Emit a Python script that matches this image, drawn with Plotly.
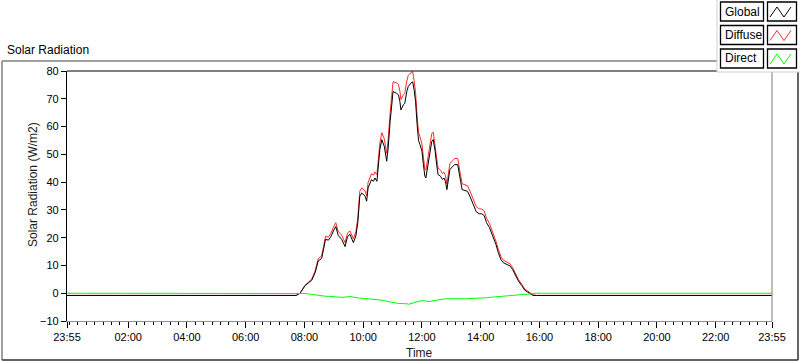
import plotly.graph_objects as go

# ---------------- data ----------------
times = [
    "23:55", "07:43", "07:51", "08:01", "08:15", "08:22", "08:28", "08:35", "08:39", "08:43",
    "08:49", "08:54", "08:59", "09:04", "09:09", "09:16", "09:23", "09:28", "09:33", "09:40",
    "09:45", "09:49", "09:53", "09:57", "10:04", "10:07", "10:10", "10:14", "10:17", "10:21",
    "10:24", "10:28", "10:31", "10:34", "10:38", "10:43", "10:48", "10:51", "10:55", "10:58",
    "11:01", "11:08", "11:12", "11:15", "11:17", "11:22", "11:25", "11:29", "11:32", "11:37",
    "11:41", "11:44", "11:47", "11:50", "11:53", "11:56", "12:00", "12:03", "12:06", "12:08",
    "12:11", "12:15", "12:20", "12:23", "12:27", "12:30", "12:33", "12:38", "12:42", "12:45",
    "12:48", "12:51", "12:54", "12:57", "13:03", "13:07", "13:13", "13:16", "13:19", "13:22",
    "13:28", "13:33", "13:38", "13:42", "13:46", "13:51", "13:57", "14:02", "14:07", "14:12",
    "14:18", "14:22", "14:27", "14:31", "14:36", "14:41", "14:46", "14:53", "15:00", "15:05",
    "15:10", "15:17", "15:24", "15:30", "15:35", "15:42", "15:47", "15:54", "23:55",
]

global_wm2 = [
    -0.8, -0.8, 0.0, 2.7, 4.7, 7.5, 11.6, 12.5, 15.8, 19.4,
    19.1, 20.4, 22.4, 24.0, 20.8, 19.4, 16.8, 20.4, 21.2, 18.2,
    20.6, 25.4, 34.9, 36.1, 34.9, 33.1, 37.9, 39.7, 40.9, 40.3,
    41.5, 40.3, 46.3, 51.7, 55.3, 52.9, 47.5, 52.3, 61.8, 69.0,
    72.6, 72.0, 71.4, 69.0, 66.0, 67.8, 68.4, 72.6, 74.4, 75.6,
    76.1, 73.2, 69.0, 61.0, 55.0, 53.5, 51.1, 46.3, 42.1, 41.5,
    45.1, 49.9, 54.6, 55.3, 51.1, 46.3, 42.7, 42.1, 40.9, 41.5,
    40.3, 37.3, 40.9, 44.5, 45.7, 46.3, 46.3, 43.9, 40.3, 37.3,
    37.0, 36.7, 34.9, 33.0, 31.0, 29.3, 28.6, 28.6, 28.0, 25.4,
    23.6, 21.8, 20.0, 17.6, 14.6, 12.2, 11.0, 10.4, 9.8, 8.6,
    6.8, 4.4, 2.7, 1.1, 0.5, -0.3, -0.8, -0.8, -0.8,
]

diffuse_wm2 = [
    -0.8, -0.8, 0.0, 2.8, 5.1, 8.1, 12.4, 13.4, 16.8, 20.5,
    20.2, 21.6, 23.7, 25.4, 22.3, 20.9, 18.2, 21.7, 22.4, 19.6,
    22.2, 27.1, 36.7, 37.9, 36.8, 35.0, 39.9, 41.7, 43.0, 42.5,
    43.7, 42.6, 48.6, 54.1, 57.8, 55.6, 50.4, 55.4, 65.0, 72.3,
    76.1, 75.8, 75.1, 72.7, 69.7, 71.4, 72.0, 76.4, 78.4, 79.3,
    79.8, 76.5, 72.2, 64.1, 58.0, 56.3, 53.8, 48.9, 44.8, 44.3,
    48.0, 52.9, 57.4, 58.0, 53.6, 48.7, 45.0, 44.3, 43.0, 43.6,
    42.3, 39.3, 42.9, 46.6, 47.8, 48.5, 48.5, 46.0, 42.4, 39.4,
    39.0, 38.7, 36.8, 34.9, 32.8, 31.1, 30.4, 30.3, 29.7, 27.0,
    25.1, 23.2, 21.3, 18.8, 15.8, 13.3, 11.9, 11.2, 10.6, 9.3,
    7.5, 5.0, 3.2, 1.5, 0.9, 0.0, -0.6, -0.8, -0.8,
]

direct_wm2 = [
    0.0, 0.0, 0.0, -0.1, -0.4, -0.6, -0.8, -0.9, -1.0, -1.1,
    -1.1, -1.2, -1.3, -1.4, -1.5, -1.5, -1.4, -1.3, -1.2, -1.4,
    -1.6, -1.7, -1.8, -1.8, -1.9, -1.9, -2.0, -2.0, -2.1, -2.2,
    -2.2, -2.3, -2.3, -2.4, -2.5, -2.7, -2.9, -3.1, -3.2, -3.3,
    -3.5, -3.8, -3.7, -3.7, -3.7, -3.6, -3.6, -3.8, -4.0, -3.7,
    -3.5, -3.3, -3.2, -3.1, -3.0, -2.8, -2.7, -2.6, -2.7, -2.8,
    -2.9, -3.0, -2.8, -2.7, -2.5, -2.4, -2.3, -2.2, -2.1, -2.1,
    -2.0, -2.0, -2.0, -2.1, -2.1, -2.2, -2.2, -2.1, -2.1, -2.1,
    -2.0, -2.0, -1.9, -1.9, -1.8, -1.8, -1.8, -1.7, -1.7, -1.6,
    -1.5, -1.4, -1.3, -1.2, -1.2, -1.1, -0.9, -0.8, -0.8, -0.7,
    -0.7, -0.6, -0.5, -0.4, -0.4, -0.3, -0.2, 0.0, 0.0,
]

x_tick_hours = ["02:00", "04:00", "06:00", "08:00", "10:00", "12:00",
                "14:00", "16:00", "18:00", "20:00", "22:00"]
y_ticks = [-10, 0, 10, 20, 30, 40, 50, 60, 70, 80]

series_names = ["Global", "Diffuse", "Direct"]
series_colors = ["#000000", "#ff2a2a", "#00ff00"]

# ---------------- build ----------------
DAY0, DAY1 = "2024-01-01", "2024-01-02"
stamps = [(DAY0 if i == 0 else DAY1) + " " + t + ":00" for i, t in enumerate(times)]
x_start, x_end = DAY0 + " 23:55:00", DAY1 + " 23:55:00"

FONT = "Liberation Sans, Arial, sans-serif"
W, H = 800, 361
L, R, T, B = 67, 772, 71, 321


def X(p):
    return (p - L) / (R - L)


def Y(p):
    return (B - p) / (B - T)


fig = go.Figure()
for name, vals, col in [("Diffuse", diffuse_wm2, series_colors[1]),
                        ("Global", global_wm2, series_colors[0]),
                        ("Direct", direct_wm2, series_colors[2])]:
    fig.add_trace(go.Scatter(x=stamps, y=vals, mode="lines", name=name,
                             line=dict(color=col, width=1), showlegend=False))

shapes = []


def hline(x0, x1, y, color, w=1):
    shapes.append(dict(type="line", xref="paper", yref="paper", x0=X(x0), x1=X(x1),
                       y0=Y(y), y1=Y(y), line=dict(color=color, width=w)))


def vline(x, y0, y1, color, w=1):
    shapes.append(dict(type="line", xref="paper", yref="paper", x0=X(x), x1=X(x),
                       y0=Y(y0), y1=Y(y1), line=dict(color=color, width=w)))


def rect(x0, y0, x1, y1, fill, line_color=None, w=1):
    shapes.append(dict(type="rect", xref="paper", yref="paper",
                       x0=X(x0), x1=X(x1), y0=Y(y0), y1=Y(y1), fillcolor=fill,
                       line=dict(color=line_color or fill, width=w if line_color else 0)))


# outer frame
hline(2, 717, 61, "#a0a0a0", 2)
vline(2, 61, 360, "#a0a0a0", 2)
hline(2, 798, 360, "#303030", 1.5)
vline(798, 72, 360, "#303030", 1.5)
# plot-area frame (top black, right gray)
hline(L, R, T, "#000000", 1.2)
vline(R, T, B, "#909090", 1.2)

# legend panel
rect(717, 0, 800, 72, "#ffffff")
vline(717, 0, 72, "#d0d0d0", 1)
hline(717, 800, 72, "#d0d0d0", 1)

annotations = []
row_tops = [2, 25.5, 49]
for name, col, top in zip(series_names, series_colors, row_tops):
    bot = top + 19
    rect(720.5, top, 763.5, bot, "#ffffff", "#000000", 1.3)
    rect(767.5, top, 796.5, bot, "#ffffff", "#000000", 1.3)
    path = "M {:.5f},{:.5f} L {:.5f},{:.5f} L {:.5f},{:.5f} L {:.5f},{:.5f}".format(
        X(770), Y(top + 15), X(777), Y(top + 5), X(784), Y(top + 15), X(791), Y(top + 5))
    shapes.append(dict(type="path", xref="paper", yref="paper", path=path,
                       line=dict(color=col, width=1)))
    annotations.append(dict(text=name, xref="paper", yref="paper", x=X(723), y=Y(top + 9.5),
                            xanchor="left", yanchor="middle", showarrow=False,
                            font=dict(family=FONT, size=12, color="#000000")))

# titles
annotations.append(dict(text="Solar Radiation", xref="paper", yref="paper", x=X(5), y=Y(50),
                        xanchor="left", yanchor="middle", showarrow=False,
                        font=dict(family=FONT, size=12, color="#000000")))
annotations.append(dict(text="Solar Radiation (W/m2)", xref="paper", yref="paper",
                        x=X(33), y=Y(185), textangle=-90, xanchor="center", yanchor="middle",
                        showarrow=False, font=dict(family=FONT, size=12, color="#1a1a1a")))
annotations.append(dict(text="Time", xref="paper", yref="paper", x=X(419), y=Y(353),
                        xanchor="center", yanchor="middle", showarrow=False,
                        font=dict(family=FONT, size=12, color="#1a1a1a")))

tickvals = [x_start] + [DAY1 + " " + h + ":00" for h in x_tick_hours] + [x_end]
ticktext = ["23:55"] + x_tick_hours + ["23:55"]

fig.update_layout(
    width=W, height=H,
    margin=dict(l=L, r=W - R, t=T, b=H - B, pad=0),
    paper_bgcolor="#ffffff", plot_bgcolor="#ffffff",
    font=dict(family=FONT, size=11, color="#000000"),
    shapes=shapes, annotations=annotations,
    xaxis=dict(type="date", range=[x_start, x_end], tickmode="array",
               tickvals=tickvals, ticktext=ticktext, ticks="outside", ticklen=6,
               tickcolor="#000000", tickwidth=1, showline=True, linecolor="#909090",
               linewidth=1.2, showgrid=False, zeroline=False,
               tickfont=dict(family=FONT, size=11, color="#000000"),
               minor=dict(ticks="outside", ticklen=3, tickcolor="#000000", tickwidth=1,
                          dtick=2 * 3600 * 1000 / 7, tick0=DAY1 + " 00:00:00",
                          showgrid=False)),
    yaxis=dict(range=[-10, 80], tickmode="array", tickvals=y_ticks, ticks="outside",
               ticklen=5, tickcolor="#000000", showline=True, linecolor="#000000",
               linewidth=1.2, showgrid=False, zeroline=False,
               tickfont=dict(family=FONT, size=11, color="#000000")),
)

fig.write_html("out.html", config={"displayModeBar": False},
               post_script="document.body.style.margin='0';document.body.style.overflow='hidden';")
